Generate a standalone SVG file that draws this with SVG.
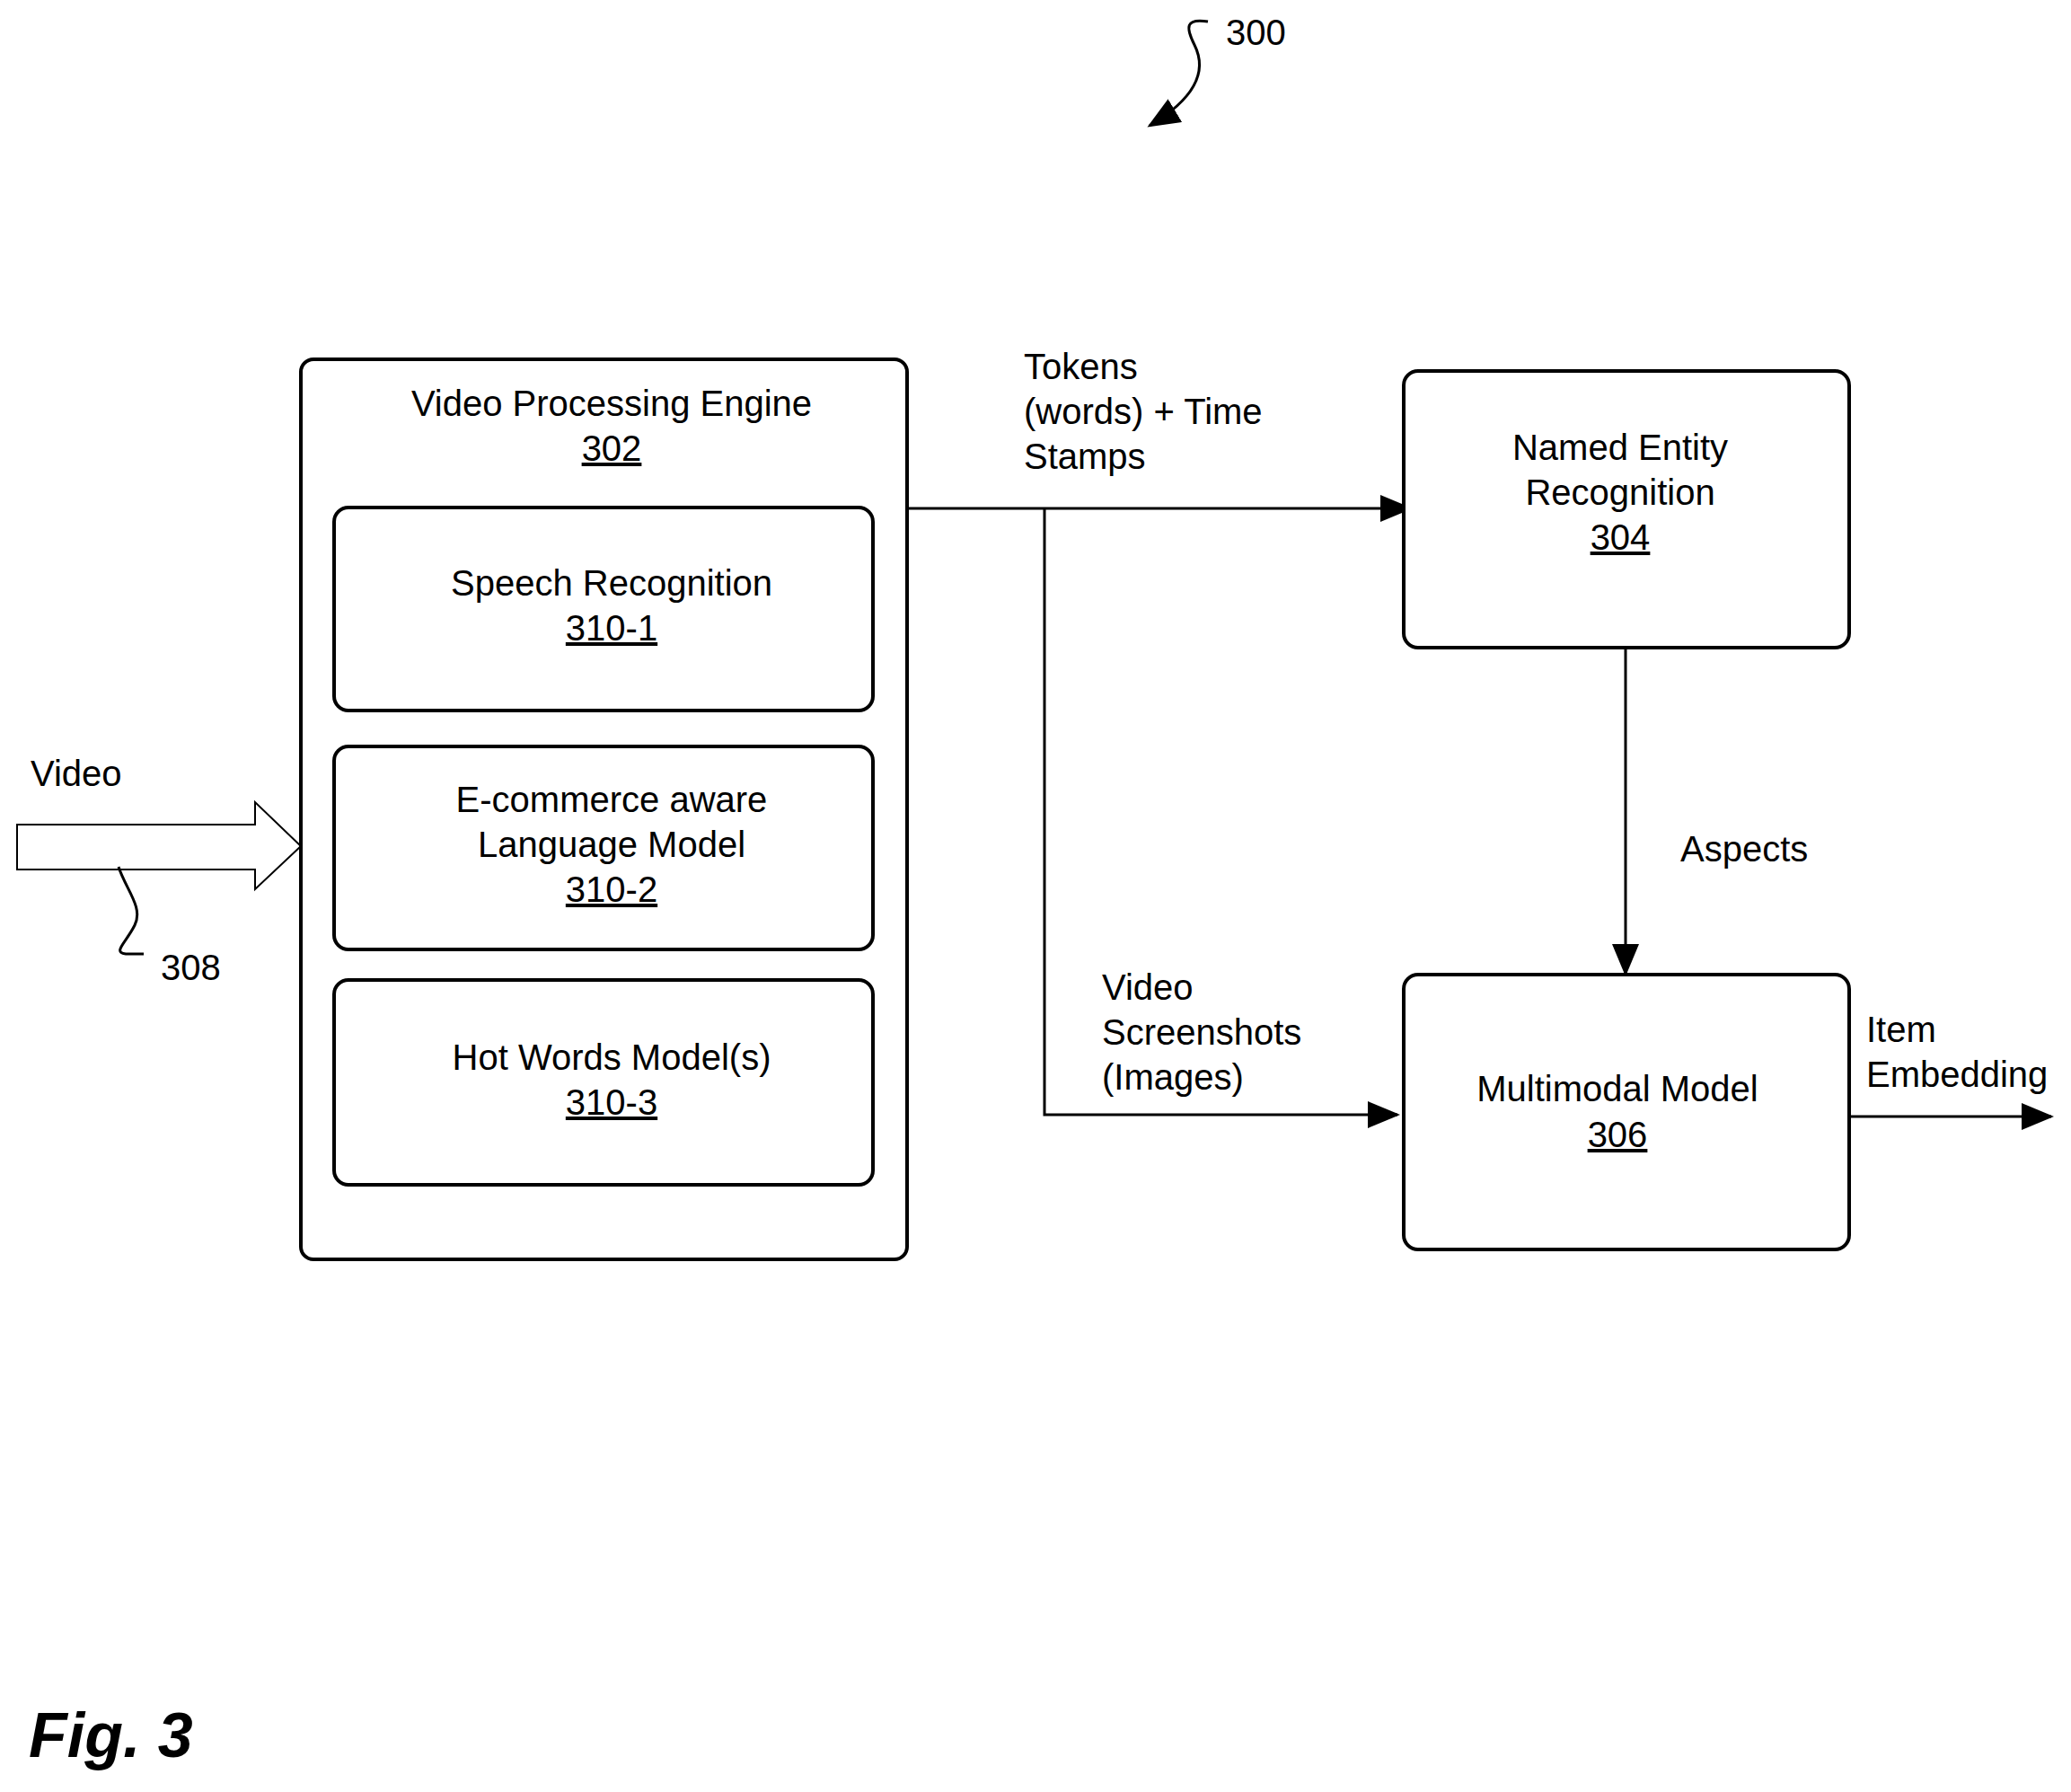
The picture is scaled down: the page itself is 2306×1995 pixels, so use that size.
<svg xmlns="http://www.w3.org/2000/svg" width="2306" height="1995" viewBox="0 0 2306 1995">
<style>
text{font-family:"Liberation Sans",Arial,sans-serif;font-size:40px;fill:#000}
.c{text-anchor:middle}
.u{text-decoration:underline}
.box{fill:#fff;stroke:#000;stroke-width:4}
.ln{fill:none;stroke:#000;stroke-width:3}
</style>
<defs><marker id="ah" markerWidth="12" markerHeight="10" refX="11" refY="5" orient="auto" markerUnits="userSpaceOnUse" viewBox="0 0 12 10"><path d="M0,0L12,5L0,10z"/></marker>
<marker id="ah2" viewBox="0 0 12 10" refX="11" refY="5" markerWidth="36" markerHeight="30" orient="auto" markerUnits="userSpaceOnUse"><path d="M0,0L12,5L0,10z"/></marker></defs>
<rect width="2306" height="1995" fill="#fff"/>
<g id="connectors">
<path class="ln" d="M1010,566H1570" marker-end="url(#ah2)"/>
<path class="ln" d="M1163,566V1241H1556" marker-end="url(#ah2)"/>
<path class="ln" d="M1810,721V1084" marker-end="url(#ah2)"/>
<path class="ln" d="M2059,1243H2284" marker-end="url(#ah2)"/>
<path d="M19,918H284V893L335,942L284,990V968H19Z" fill="#fff" stroke="#000" stroke-width="2"/>
<path class="ln" d="M132,965C140,990 160,1010 150,1030C140,1050 125,1060 140,1062H160" stroke-width="2.5"/>
<path class="ln" d="M1345,24C1320,20 1320,30 1330,50C1345,80 1330,110 1280,140" marker-end="url(#ah2)" stroke-width="2.5"/>
</g>
<text x="1365" y="50">300</text>
<text x="34" y="875">Video</text>
<text x="179" y="1091">308</text>
<text x="1140" y="422">Tokens</text><text x="1140" y="472">(words) + Time</text><text x="1140" y="522">Stamps</text>
<text x="1871" y="959">Aspects</text>
<text x="1227" y="1113">Video</text><text x="1227" y="1163">Screenshots</text><text x="1227" y="1213">(Images)</text>
<text x="2078" y="1160">Item</text><text x="2078" y="1210">Embedding</text>
<g id="vpe"><rect class="box" x="335" y="400" width="675" height="1002" rx="14"/>
<text class="c" x="681" y="463">Video Processing Engine</text><text class="c u" x="681" y="513">302</text></g>
<g id="sr"><rect class="box" x="372" y="565" width="600" height="226" rx="16"/>
<text class="c" x="681" y="663">Speech Recognition</text><text class="c u" x="681" y="713">310-1</text></g>
<g id="lm"><rect class="box" x="372" y="831" width="600" height="226" rx="16"/>
<text class="c" x="681" y="904">E-commerce aware</text><text class="c" x="681" y="954">Language Model</text><text class="c u" x="681" y="1004">310-2</text></g>
<g id="hw"><rect class="box" x="372" y="1091" width="600" height="228" rx="16"/>
<text class="c" x="681" y="1191">Hot Words Model(s)</text><text class="c u" x="681" y="1241">310-3</text></g>
<g id="ner"><rect class="box" x="1563" y="413" width="496" height="308" rx="16"/>
<text class="c" x="1804" y="512">Named Entity</text><text class="c" x="1804" y="562">Recognition</text><text class="c u" x="1804" y="612">304</text></g>
<g id="mm"><rect class="box" x="1563" y="1085" width="496" height="306" rx="16"/>
<text class="c" x="1801" y="1226">Multimodal Model</text><text class="c u" x="1801" y="1277">306</text></g>
<text x="32" y="1956" style="font-size:70px;font-weight:bold;font-style:italic">Fig. 3</text>
</svg>
